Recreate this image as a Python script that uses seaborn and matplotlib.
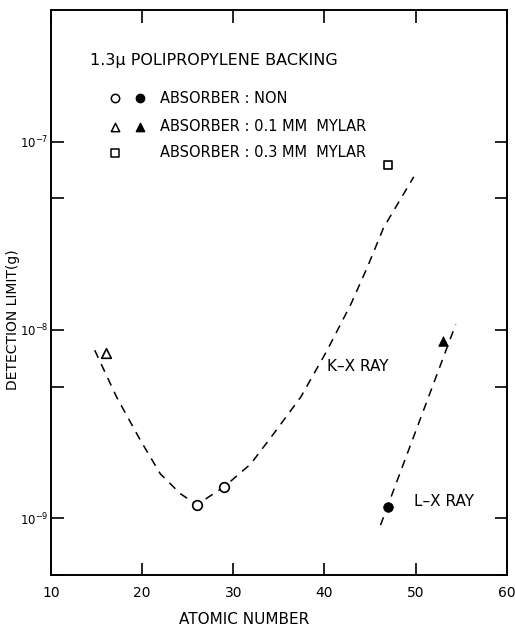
import numpy as np
import pandas as pd
import matplotlib
matplotlib.use("Agg")
import matplotlib.pyplot as plt
import seaborn as sns

# ---- data ----
k_curve_z = [14.8, 17.2, 19.8, 22.0, 24.2, 26.0, 29.0, 31.9, 34.4, 37.4, 40.3, 42.9, 44.7, 46.5, 49.8]
k_curve_y = [7.8e-9, 4.4e-9, 2.6e-9, 1.72e-9, 1.35e-9, 1.18e-9, 1.47e-9, 1.94e-9, 2.8e-9, 4.4e-9,
             7.8e-9, 1.37e-8, 2.15e-8, 3.5e-8, 6.5e-8]
l_curve_z = [46.15, 54.4]
l_curve_y = [9.2e-10, 1.07e-8]

open_circle_z = [26, 29]
open_circle_y = [1.18e-9, 1.47e-9]
filled_circle_z = [47]
filled_circle_y = [1.15e-9]
open_tri_z = [16]
open_tri_y = [7.5e-9]
filled_tri_z = [53]
filled_tri_y = [8.7e-9]
open_sq_z = [47]
open_sq_y = [7.5e-8]

x_ticks = [10, 20, 30, 40, 50, 60]
y_major = [1e-9, 1e-8, 1e-7]
y_major_labels = [r"$10^{-9}$", r"$10^{-8}$", r"$10^{-7}$"]
y_minor = [5e-10, 5e-9, 5e-8]

title_text = "1.3\u03bc POLIPROPYLENE BACKING"
legend_rows = ["ABSORBER : NON", "ABSORBER : 0.1 MM  MYLAR", "ABSORBER : 0.3 MM  MYLAR"]

sns.set_theme(style="white")
plt.rcParams["font.family"] = ["DejaVu Sans"]
plt.rcParams["text.color"] = "black"
plt.rcParams["axes.labelcolor"] = "black"

fig = plt.figure(figsize=(5.15, 6.3), dpi=100)
ax = fig.add_axes([0.099, 0.0873, 0.885, 0.897])

dash = (5.5, 4.5)
sns.lineplot(x=k_curve_z, y=k_curve_y, ax=ax, color="black", lw=1.1, sort=False,
             estimator=None)
ax.lines[-1].set_dashes(dash)
sns.lineplot(x=l_curve_z, y=l_curve_y, ax=ax, color="black", lw=1.1, sort=False,
             estimator=None)
ax.lines[-1].set_dashes(dash)

ms = 48
sns.scatterplot(x=open_circle_z, y=open_circle_y, ax=ax, marker="o", s=ms,
                facecolor="white", edgecolor="black", linewidth=1.2, zorder=5)
sns.scatterplot(x=filled_circle_z, y=filled_circle_y, ax=ax, marker="o", s=ms,
                color="black", edgecolor="black", zorder=5)
sns.scatterplot(x=open_tri_z, y=open_tri_y, ax=ax, marker="^", s=ms,
                facecolor="white", edgecolor="black", linewidth=1.2, zorder=5)
sns.scatterplot(x=filled_tri_z, y=filled_tri_y, ax=ax, marker="^", s=ms,
                color="black", edgecolor="black", zorder=5)
sns.scatterplot(x=open_sq_z, y=open_sq_y, ax=ax, marker="s", s=ms * 0.85,
                facecolor="white", edgecolor="black", linewidth=1.2, zorder=5)

ax.set_yscale("log")
ax.set_xlim(10, 60)
ax.set_ylim(5e-10, 5e-7)

ax.set_xticks(x_ticks)
ax.set_xticklabels([str(t) for t in x_ticks], fontsize=10)
ax.set_yticks(y_major)
ax.set_yticklabels(y_major_labels, fontsize=8.5)
ax.set_yticks(y_minor, minor=True)
ax.yaxis.set_minor_formatter(matplotlib.ticker.NullFormatter())
ax.xaxis.set_minor_locator(matplotlib.ticker.NullLocator())

ax.tick_params(axis="both", which="both", direction="in", length=9, width=1.2,
               top=True, right=True, bottom=True, left=True,
               color="black", labelcolor="black")
ax.tick_params(axis="x", pad=8)
ax.tick_params(axis="y", pad=1.5)

for sp in ax.spines.values():
    sp.set_color("black")
    sp.set_linewidth(1.4)

ax.set_xlabel("ATOMIC NUMBER", fontsize=11, color="black")
ax.xaxis.set_label_coords(0.423, -0.066)
ax.set_ylabel("DETECTION LIMIT(g)", fontsize=10, color="black")
ax.yaxis.set_label_coords(-0.068, 0.451)

# annotations (axes-fraction coordinates)
ax.text(0.085, 0.911, title_text, transform=ax.transAxes, fontsize=11.5, va="center")
rows_y = [0.844, 0.793, 0.747]
lms = 36
ax.scatter([0.140], [rows_y[0]], transform=ax.transAxes, marker="o", s=lms,
           facecolor="white", edgecolor="black", linewidth=1.1, clip_on=False)
ax.scatter([0.195], [rows_y[0]], transform=ax.transAxes, marker="o", s=lms,
           color="black", clip_on=False)
ax.scatter([0.140], [rows_y[1]], transform=ax.transAxes, marker="^", s=lms,
           facecolor="white", edgecolor="black", linewidth=1.1, clip_on=False)
ax.scatter([0.195], [rows_y[1]], transform=ax.transAxes, marker="^", s=lms,
           color="black", clip_on=False)
ax.scatter([0.140], [rows_y[2]], transform=ax.transAxes, marker="s", s=lms * 0.8,
           facecolor="white", edgecolor="black", linewidth=1.1, clip_on=False)
for t, yy in zip(legend_rows, rows_y):
    ax.text(0.24, yy, t, transform=ax.transAxes, fontsize=10.5, va="center")

ax.text(40.3, 6.4e-9, "K\u2013X RAY", fontsize=11, va="center")
ax.text(49.8, 1.23e-9, "L\u2013X RAY", fontsize=11, va="center")

fig.savefig("out.png", dpi=100)
